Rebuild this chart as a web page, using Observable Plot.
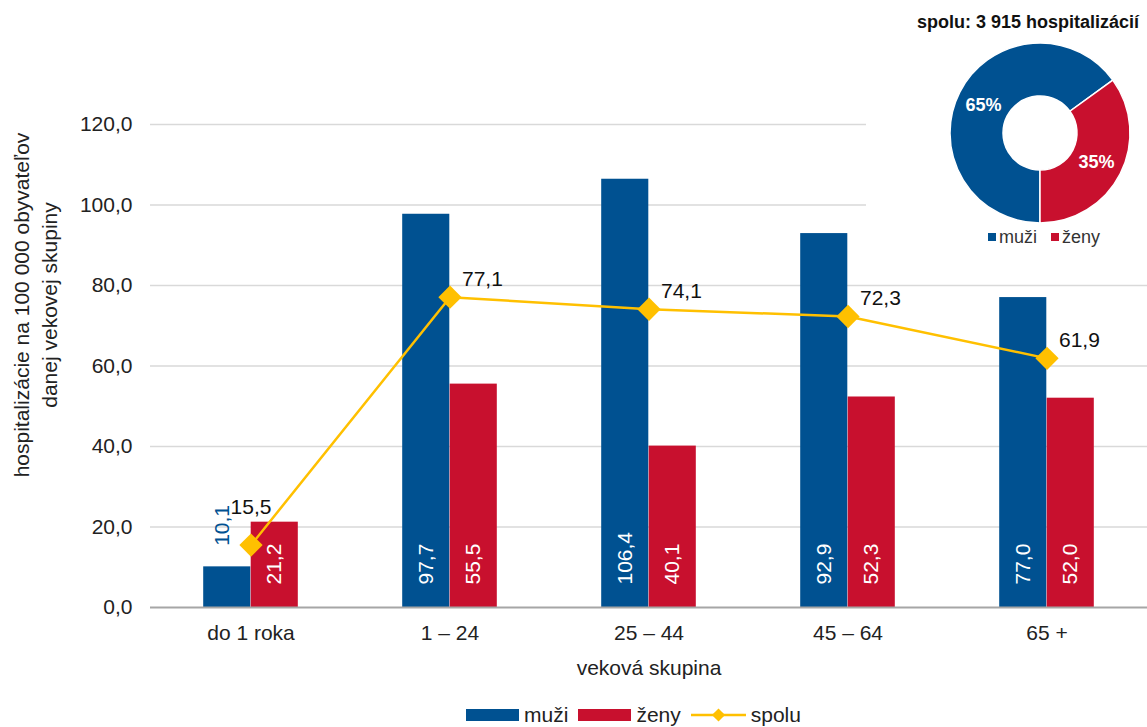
<!DOCTYPE html>
<html>
<head>
<meta charset="utf-8">
<script src="https://cdn.jsdelivr.net/npm/d3@7"></script>
<script src="https://cdn.jsdelivr.net/npm/@observablehq/plot@0.6"></script>
<style>
  html, body { margin: 0; padding: 0; background: #fff; }
  body { font-family: "Liberation Sans", Arial, sans-serif; color: #222; }
  #wrap { position: relative; width: 1147px; height: 727px; overflow: hidden; }
  #main { position: absolute; left: 0; top: 0; }
  #pie { position: absolute; left: 866px; top: 0; width: 281px; height: 258px; background: #fff; }
  #pieTitle { position: absolute; left: 0; top: 10px; width: 324px; text-align: center; font-weight: bold; font-size: 18px; line-height: 24px; color: #111; white-space: nowrap; }
  #pieChart { position: absolute; left: 74px; top: 38px; }
  #pieLegend { position: absolute; left: 0; top: 226px; width: 356px; display: flex; justify-content: center; align-items: center; font-size: 18px; line-height: 22px; color: #333; }
  #pieLegend .sw { width: 8px; height: 8px; margin-right: 3px; display: inline-block; }
  #pieLegend .it { display: flex; align-items: center; margin: 0 7px; }
  #legend { position: absolute; left: 120px; top: 704px; width: 1027px; height: 22px; line-height: 22px; display: flex; justify-content: center; align-items: center; font-size: 21px; color: #222; }
  #legend .it { display: flex; align-items: center; margin: 0 5px; }
  #legend .rect { width: 53px; height: 12px; margin-right: 5px; display: inline-block; }
  #legend svg { margin-right: 5px; }
</style>
</head>
<body>
<div id="wrap">
  <div id="main"></div>
  <div id="pie">
    <div id="pieTitle"></div>
    <div id="pieChart"></div>
    <div id="pieLegend"></div>
  </div>
  <div id="legend"></div>
</div>
<script>
// ---- data ----
const categories = ["do 1 roka", "1 – 24", "25 – 44", "45 – 64", "65 +"];
const muzi = [10.1, 97.7, 106.4, 92.9, 77.0];
const zeny = [21.2, 55.5, 40.1, 52.3, 52.0];
const spolu = [15.5, 77.1, 74.1, 72.3, 61.9];
const yTicks = [0, 20, 40, 60, 80, 100, 120];
const seriesNames = ["muži", "ženy", "spolu"];
const pieLabels = ["muži", "ženy"];
const pieShares = [65, 35];
const pieTotal = "3 915";
const yTitle = "hospitalizácie na 100 000 obyvateľov\ndanej vekovej skupiny";
const xTitle = "veková skupina";

// ---- styles ----
const BLUE = "#005191";
const RED = "#C8102E";
const GOLD = "#FFC000";
const fmt = v => v.toFixed(1).replace(".", ",");

const rows = categories.map((c, i) => ({cat: c, muzi: muzi[i], zeny: zeny[i], spolu: spolu[i]}));

const W = 1147, H = 695, mL = 150, mR = 0, mT = 124, mB = 88;
const bw = (W - mL - mR) / categories.length;
const barW = 47.5;

const main = Plot.plot({
  width: W, height: H,
  marginLeft: mL, marginRight: mR, marginTop: mT, marginBottom: mB,
  x: {type: "band", domain: categories, padding: 0},
  y: {domain: [0, 120]},
  style: {fontFamily: "'Liberation Sans', Arial, sans-serif", fontSize: "21px", color: "#222", background: "transparent", overflow: "visible"},
  marks: [
    Plot.ruleY(yTicks.filter(t => t > 0), {stroke: "#d9d9d9", strokeWidth: 1.3}),
    Plot.barY(rows, {x: "cat", y: "muzi", fill: BLUE, insetLeft: bw / 2 - barW, insetRight: bw / 2}),
    Plot.barY(rows, {x: "cat", y: "zeny", fill: RED, insetLeft: bw / 2, insetRight: bw / 2 - barW}),
    Plot.ruleY([0], {stroke: "#a6a6a6", strokeWidth: 2}),
    Plot.axisY({ticks: yTicks, tickFormat: fmt, tickSize: 0, tickPadding: 18, label: null}),
    Plot.axisX({tickSize: 0, tickPadding: 18, label: null}),
    // bar labels inside base
    Plot.text(rows.filter(d => d.muzi >= 15), {x: "cat", frameAnchor: "bottom", text: d => fmt(d.muzi), rotate: -90, textAnchor: "start", lineAnchor: "middle", dx: -barW / 2, dy: -23, fill: "white"}),
    Plot.text(rows.filter(d => d.zeny >= 15), {x: "cat", frameAnchor: "bottom", text: d => fmt(d.zeny), rotate: -90, textAnchor: "start", lineAnchor: "middle", dx: barW / 2, dy: -23, fill: "white"}),
    // small bar labels outside end
    Plot.text(rows.filter(d => d.muzi < 15), {x: "cat", y: "muzi", text: d => fmt(d.muzi), rotate: -90, textAnchor: "start", lineAnchor: "middle", dx: -barW / 2 - 5, dy: -21, fill: BLUE}),
    Plot.text(rows.filter(d => d.zeny < 15), {x: "cat", y: "zeny", text: d => fmt(d.zeny), rotate: -90, textAnchor: "start", lineAnchor: "middle", dx: barW / 2, dy: -21, fill: RED}),
    // total line
    Plot.line(rows, {x: "cat", y: "spolu", stroke: GOLD, strokeWidth: 2.5}),
    Plot.dot(rows, {x: "cat", y: "spolu", symbol: "diamond2", r: 10.5, fill: GOLD}),
    Plot.text(rows.filter(d => d.zeny <= d.spolu), {x: "cat", y: "spolu", text: d => fmt(d.spolu), textAnchor: "start", lineAnchor: "middle", dx: 12, dy: -18, fill: "#111"}),
    Plot.text(rows.filter(d => d.zeny > d.spolu), {x: "cat", y: "spolu", text: d => fmt(d.spolu), textAnchor: "middle", lineAnchor: "middle", dy: -38, fill: "#111"}),
    // axis titles
    Plot.text([yTitle], {frameAnchor: "left", rotate: -90, dx: -116, dy: -61, textAnchor: "middle", lineAnchor: "middle", lineHeight: 1.33, fill: "#222"}),
    Plot.text([xTitle], {frameAnchor: "bottom", dy: 61, textAnchor: "middle", lineAnchor: "middle", fill: "#222"})
  ]
});
document.getElementById("main").appendChild(main);

// ---- pie ----
document.getElementById("pieTitle").textContent = `spolu: ${pieTotal} hospitalizácií`;
const pieColor = Plot.scale({color: {type: "ordinal", domain: pieLabels, range: [BLUE, RED]}});
const pieArcs = d3.pie().sort(null).startAngle(Math.PI).endAngle(3 * Math.PI)(pieShares);
const outerR = 90, innerR = 37;
const pieSvg = Plot.plot({
  width: 200, height: 190, margin: 0,
  style: {background: "transparent", overflow: "visible"},
  marks: [
    (index, scales, values, dims) => {
      const g = d3.create("svg:g").attr("transform", `translate(${dims.width / 2},${dims.height / 2})`);
      const arc = d3.arc().innerRadius(innerR).outerRadius(outerR);
      g.selectAll("path").data(pieArcs).join("path")
        .attr("d", arc)
        .attr("fill", (d, i) => pieColor.apply(pieLabels[i]))
        .attr("stroke", "#fff").attr("stroke-width", 1.5);
      const mid = (outerR + innerR) / 2;
      const lab = d3.arc().innerRadius(mid).outerRadius(mid);
      g.selectAll("text").data(pieArcs).join("text")
        .attr("transform", d => `translate(${lab.centroid(d)})`)
        .attr("text-anchor", "middle").attr("dy", "0.36em")
        .attr("fill", "#fff").attr("font-weight", "bold").attr("font-size", 18)
        .attr("font-family", "'Liberation Sans', Arial, sans-serif")
        .text(d => d.data + "%");
      return g.node();
    }
  ]
});
document.getElementById("pieChart").appendChild(pieSvg);

const pl = document.getElementById("pieLegend");
pieLabels.forEach(name => {
  const it = document.createElement("span"); it.className = "it";
  const sw = document.createElement("span"); sw.className = "sw"; sw.style.background = pieColor.apply(name);
  it.appendChild(sw); it.appendChild(document.createTextNode(name));
  pl.appendChild(it);
});

// ---- bottom legend ----
const lg = document.getElementById("legend");
const seriesColor = [BLUE, RED, GOLD];
seriesNames.forEach((name, i) => {
  const it = document.createElement("span"); it.className = "it";
  if (i < 2) {
    const r = document.createElement("span"); r.className = "rect"; r.style.background = seriesColor[i];
    it.appendChild(r);
  } else {
    const ns = "http://www.w3.org/2000/svg";
    const s = document.createElementNS(ns, "svg");
    s.setAttribute("width", 55); s.setAttribute("height", 20);
    const ln = document.createElementNS(ns, "line");
    ln.setAttribute("x1", 0); ln.setAttribute("x2", 55); ln.setAttribute("y1", 10); ln.setAttribute("y2", 10);
    ln.setAttribute("stroke", GOLD); ln.setAttribute("stroke-width", 2.5);
    const dm = document.createElementNS(ns, "path");
    dm.setAttribute("d", d3.symbol(d3.symbolDiamond2, 110)());
    dm.setAttribute("transform", "translate(27.5,10)");
    dm.setAttribute("fill", GOLD);
    s.appendChild(ln); s.appendChild(dm);
    it.appendChild(s);
  }
  it.appendChild(document.createTextNode(name));
  lg.appendChild(it);
});
</script>
</body>
</html>
